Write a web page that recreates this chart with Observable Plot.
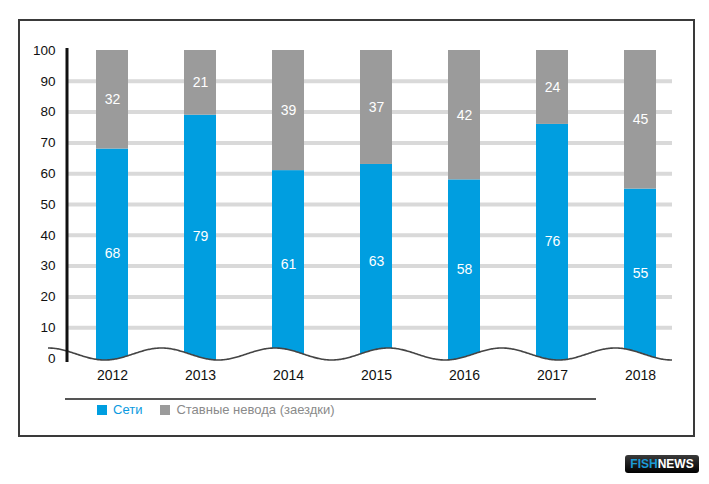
<!DOCTYPE html>
<html>
<head>
<meta charset="utf-8">
<script src="https://cdn.jsdelivr.net/npm/d3@7"></script>
<script src="https://cdn.jsdelivr.net/npm/@observablehq/plot@0.6"></script>
<style>
  body { margin: 0; background: #fff; font-family: "Liberation Sans", Arial, sans-serif; }
  #wrap { position: relative; width: 709px; height: 484px; overflow: hidden; }
  #box { position: absolute; left: 18px; top: 19px; width: 673px; height: 414px; border: 2px solid #3a3a3a; }
  #chart { position: absolute; left: 0; top: 0; }
  #sep { position: absolute; left: 65px; top: 398px; width: 531px; height: 2px; background: #555; }
  #legend { position: absolute; left: 97px; top: 402px; font-size: 13px; display: flex; align-items: center; }
  .sw { display: inline-block; width: 10px; height: 10px; margin-right: 6px; }
  #logo { position: absolute; left: 625px; top: 455px; width: 74px; height: 18px; border-radius: 3px;
          background: linear-gradient(#3a3a3a, #000); font: bold 12px "Liberation Sans", Arial, sans-serif;
          line-height: 18px; text-align: center; color: #fff; }
</style>
</head>
<body>
<div id="wrap">
  <div id="box"></div>
  <div id="chart"></div>
  <div id="sep"></div>
  <div id="legend"></div>
  <div id="logo"><span style="color:#1a9ad6">FISH</span>NEWS</div>
</div>
<script>
// доли, %
const years = ["2012", "2013", "2014", "2015", "2016", "2017", "2018"];
const seti = [68, 79, 61, 63, 58, 76, 55];
const nevoda = [32, 21, 39, 37, 42, 24, 45];
const seriesNames = ["Сети", "Ставные невода (заездки)"];
const seriesColors = ["#009ee0", "#9b9b9b"];
const yTicks = [0, 10, 20, 30, 40, 50, 60, 70, 80, 90, 100];
const gridTicks = [10, 20, 30, 40, 50, 60, 70, 80, 90];

const data = [];
years.forEach((y, i) => {
  data.push({year: y, series: seriesNames[0], value: seti[i]});
  data.push({year: y, series: seriesNames[1], value: nevoda[i]});
});

const chart = Plot.plot({
  width: 709,
  height: 484,
  marginTop: 50,
  marginBottom: 126,
  marginLeft: 67,
  marginRight: 37,
  style: {fontFamily: "Liberation Sans, Arial, sans-serif", background: "transparent", overflow: "visible"},
  x: {domain: years, range: [67, 684], paddingInner: 0.64, paddingOuter: 0.32},
  y: {domain: [0, 100]},
  color: {domain: seriesNames, range: seriesColors},
  marks: [
    Plot.ruleY(gridTicks, {stroke: "#d9d9d9", strokeWidth: 4}),
    Plot.barY(data, Plot.stackY({x: "year", y: "value", fill: "series", order: seriesNames})),
    // столбцы доходят до волны
    Plot.barY(years, {x: d => d, y1: 0, y2: 1, fill: seriesColors[0], insetBottom: -4}),
    Plot.text(data, Plot.stackY({x: "year", y: "value", z: "series", order: seriesNames,
      text: "value", fill: "white", fontSize: 14})),
    Plot.axisY({ticks: yTicks, tickSize: 0, tickPadding: 12, fontSize: 13.5, label: null, fill: "#111"}),
    Plot.axisX({tickSize: 0, tickPadding: 12, fontSize: 14, label: null, fill: "#111"})
  ]
});

document.getElementById("chart").append(chart);

// волнистая линия разрыва оси: 5.5 волн от x=48 до конца сетки
const ys = chart.scale("y");
const x0 = 48, x1 = 709 - 37;
const period = (x1 - x0) / 5.5;
const mid = ys.apply(0) - 4;
const amp = 6;
const wave = d3.range(x0, x1 + 1, 1).map(px => [px, mid - amp * Math.cos(2 * Math.PI * (px - x0) / period)]);
const svg = d3.select(chart);
// белая подложка под волной срезает столбцы
const under = wave.filter(d => d[0] >= 69);
svg.append("path")
  .attr("d", d3.line()(under) + `L${x1},${mid + 8}L69,${mid + 8}Z`)
  .attr("fill", "white");
svg.append("path")
  .attr("d", d3.line()(wave))
  .attr("fill", "none")
  .attr("stroke", "#444")
  .attr("stroke-width", 1.6);
// ось Y (чёрная линия)
svg.append("line")
  .attr("x1", 67).attr("x2", 67)
  .attr("y1", ys.apply(100) - 2).attr("y2", ys.apply(0) + 4)
  .attr("stroke", "#111").attr("stroke-width", 3);

const legend = d3.select("#legend");
seriesNames.forEach((name, i) => {
  legend.append("span").attr("class", "sw").style("background", seriesColors[i]);
  legend.append("span").text(name)
    .style("color", i === 0 ? "#0a9ae0" : "#8a8a8a")
    .style("margin-right", i === 0 ? "18px" : "0");
});
</script>
</body>
</html>
